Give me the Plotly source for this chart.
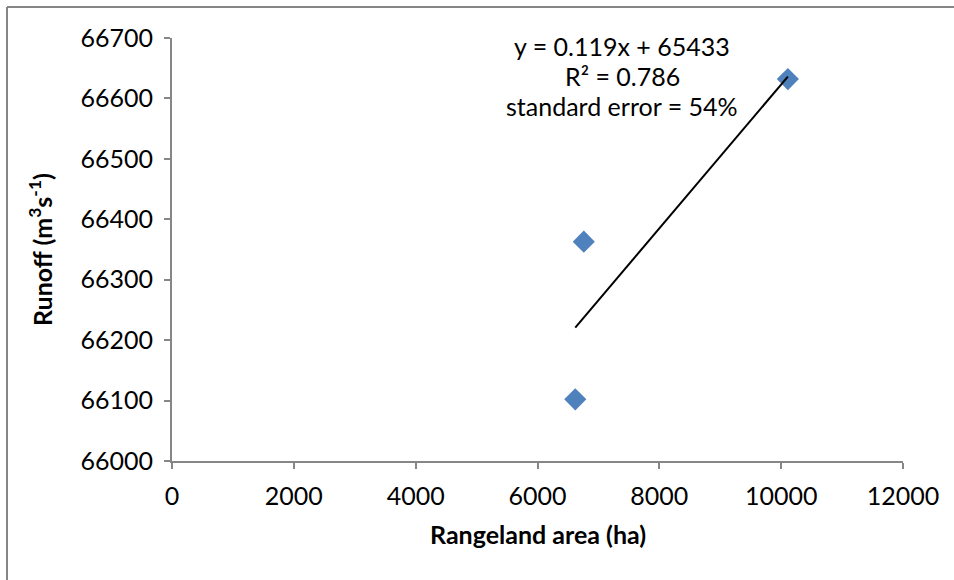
import plotly.graph_objects as go

# Data
rangeland_area = [6620, 6760, 10110]      # ha
runoff = [66102, 66363, 66632]           # m3/s
trend_slope = 0.119
trend_intercept = 65433
eq_lines = ["y = 0.119x + 65433", "R² = 0.786", "standard error = 54%"]
x_ticks = [0, 2000, 4000, 6000, 8000, 10000, 12000]
y_ticks = [66000, 66100, 66200, 66300, 66400, 66500, 66600, 66700]

FONT = "Lato"
AX = "#868686"
FS = 25

x0, x1 = min(rangeland_area), max(rangeland_area)
trend_x = [x0, x1]
trend_y = [trend_slope * v + trend_intercept for v in trend_x]

fig = go.Figure()
fig.add_trace(go.Scatter(
    x=rangeland_area, y=runoff, mode="markers",
    marker=dict(symbol="diamond", size=17, color="#4F81BD", line=dict(width=0)),
    showlegend=False, hoverinfo="x+y"))
fig.add_trace(go.Scatter(
    x=trend_x, y=trend_y, mode="lines",
    line=dict(color="black", width=2), showlegend=False, hoverinfo="skip"))

L, R, T, B = 172, 51, 38, 119
W, H = 954, 580
pw, ph = W - L - R, H - T - B

def px_x(p):
    return (p - L) / pw

def px_y(p):
    return (H - B - p) / ph

eq_y = [46, 76, 106]
annotations = [
    dict(text="<b>Rangeland area (ha)</b>", xref="paper", yref="paper",
         x=px_x(538), y=px_y(534), xanchor="center", yanchor="middle",
         showarrow=False, font=dict(family=FONT, size=FS)),
    dict(text="<b>Runoff (m<sup>3</sup>s<sup>-1</sup>)</b>", xref="paper", yref="paper",
         x=px_x(40), y=px_y(250), xanchor="center", yanchor="middle", textangle=-90,
         showarrow=False, font=dict(family=FONT, size=FS)),
]
for line, yy in zip(eq_lines, eq_y):
    annotations.append(dict(text=line, xref="paper", yref="paper",
                            x=px_x(622), y=px_y(yy), xanchor="center", yanchor="middle",
                            showarrow=False, font=dict(family=FONT, size=FS)))

fig.update_layout(
    width=W, height=H,
    margin=dict(l=L, r=R, t=T, b=B, pad=0),
    paper_bgcolor="white", plot_bgcolor="white",
    font=dict(family=FONT, size=FS, color="black"),
    xaxis=dict(range=[0, 12000], tickvals=x_ticks, ticktext=[str(v) for v in x_ticks],
               ticks="outside", ticklen=6, ticklabelstandoff=6,
               tickcolor=AX, tickwidth=2, showline=True, linecolor=AX, linewidth=2,
               showgrid=False, zeroline=False, tickfont=dict(family=FONT, size=FS)),
    yaxis=dict(range=[66000, 66700], tickvals=y_ticks, ticktext=[str(v) for v in y_ticks],
               ticks="outside", ticklen=6, ticklabelstandoff=6,
               tickcolor=AX, tickwidth=2, showline=True, linecolor=AX, linewidth=2,
               showgrid=False, zeroline=False, tickfont=dict(family=FONT, size=FS)),
    annotations=annotations,
    shapes=[
        dict(type="line", xref="paper", yref="paper", x0=px_x(7), x1=px_x(7),
             y0=px_y(7), y1=px_y(600), line=dict(color=AX, width=2)),
        dict(type="line", xref="paper", yref="paper", x0=px_x(7), x1=px_x(970),
             y0=px_y(7), y1=px_y(7), line=dict(color=AX, width=2)),
    ],
)

fig.write_html("out.html")
